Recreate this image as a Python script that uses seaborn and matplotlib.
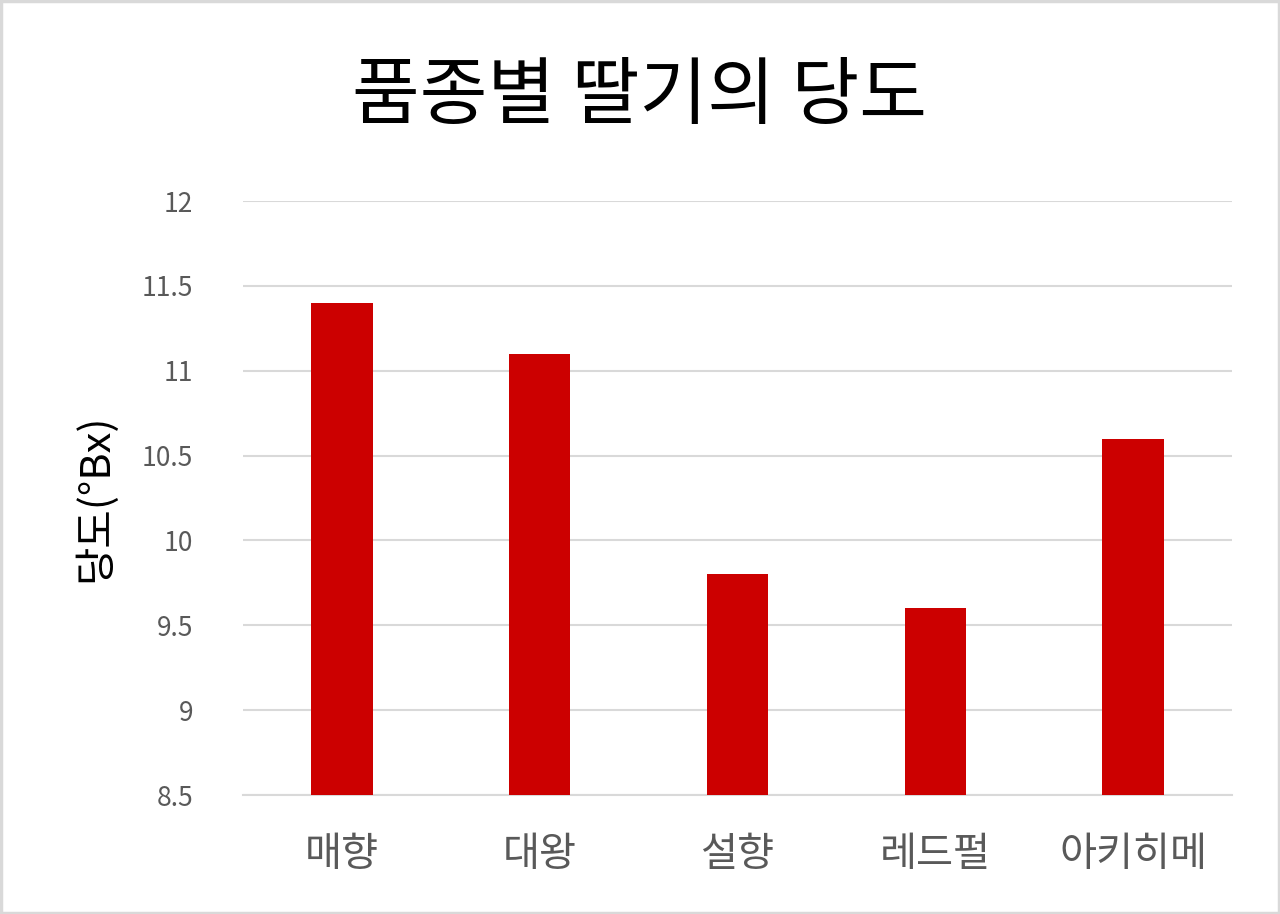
import matplotlib
matplotlib.use("Agg")
import matplotlib.pyplot as plt
import seaborn as sns
import pandas as pd
from matplotlib.patches import Rectangle

varieties = ["매향", "대왕", "설향", "레드펄", "아키히메"]
brix = [11.4, 11.1, 9.8, 9.6, 10.6]
yticks = [8.5, 9, 9.5, 10, 10.5, 11, 11.5, 12]
ytick_labels = ["8.5", "9", "9.5", "10", "10.5", "11", "11.5", "12"]

sns.set_theme(style="white")
plt.rcParams['font.family'] = ['Noto Sans CJK KR', 'DejaVu Sans']

df = pd.DataFrame({"품종": varieties, "당도": brix})

fig = plt.figure(figsize=(12.8, 9.14), dpi=100)
ax = fig.add_axes([243/1280, 1-795/914, (1232-243)/1280, (795-201)/914])

sns.barplot(data=df, x="품종", y="당도", color="#CC0000", width=0.31,
            saturation=1, ax=ax, zorder=3)
for p in ax.patches:
    p.set_edgecolor("none")

ax.set_ylim(8.5, 12)
ax.set_xlim(-0.5, 4.5)
ax.set_yticks(yticks)
ax.set_yticklabels(ytick_labels)
ax.yaxis.grid(True, color="#d9d9d9", linewidth=1.5, zorder=0)
ax.set_axisbelow(True)
for s in ["left", "right", "top"]:
    ax.spines[s].set_visible(False)
ax.spines["bottom"].set_color("#d9d9d9")
ax.spines["bottom"].set_linewidth(1.5)
ax.tick_params(axis="y", length=0, pad=36, labelsize=19, labelcolor="#595959")
ax.tick_params(axis="x", length=0, pad=28, labelsize=29, labelcolor="#595959")
ax.set_xlabel("")
ax.set_ylabel("당도(°Bx)", fontsize=30, color="black", labelpad=18)

fig.text(0.5, 1-97/914, "품종별 딸기의 당도", ha="center", va="center",
         fontsize=53, color="black")

fig.patches.append(Rectangle((0.001, 0.001), 0.998, 0.998, transform=fig.transFigure,
                             fill=False, edgecolor="#d9d9d9", linewidth=2.5))

fig.savefig("out.png", dpi=100, facecolor="white")
